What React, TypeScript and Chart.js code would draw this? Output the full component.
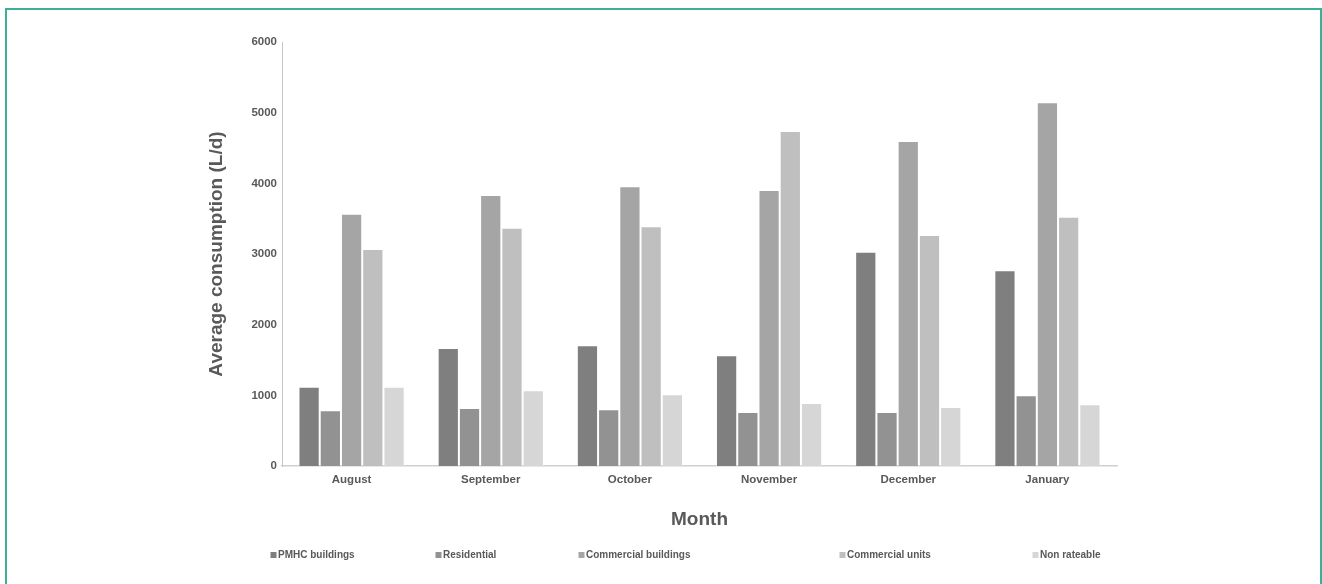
import React, { useEffect, useRef } from "react";
import { Chart, registerables } from "chart.js";

Chart.register(...registerables);

const months = ["August", "September", "October", "November", "December", "January"];
const seriesNames = ["PMHC buildings", "Residential", "Commercial buildings", "Commercial units", "Non rateable"];
const pmhc = [1122, 1670, 1708, 1566, 3033, 2769];
const residential = [788, 821, 802, 764, 764, 1000];
const commercialBuildings = [3570, 3835, 3958, 3905, 4599, 5146];
const commercialUnits = [3070, 3372, 3391, 4740, 3269, 3528];
const nonRateable = [1122, 1071, 1014, 891, 835, 873];
const seriesColors = ["#7f7f7f", "#929292", "#a5a5a5", "#bfbfbf", "#d6d6d6"];
const legendX = [270.5, 435.5, 578.5, 839.5, 1032.5];

const FONT = '"Liberation Sans", Arial, sans-serif';
const TEXT = "#595959";

const legendPlugin = {
  id: "fixedLegend",
  afterDraw(chart: any) {
    const ctx = chart.ctx;
    ctx.save();
    ctx.font = `bold 10px ${FONT}`;
    ctx.textBaseline = "middle";
    ctx.textAlign = "left";
    const y = 555;
    chart.data.datasets.forEach((ds: any, i: number) => {
      const x = legendX[i];
      ctx.fillStyle = ds.backgroundColor;
      ctx.fillRect(x, y - 3, 6, 6);
      ctx.fillStyle = TEXT;
      ctx.fillText(ds.label, x + 7.5, y);
    });
    ctx.restore();
  },
};

export default function App() {
  const ref = useRef<HTMLCanvasElement | null>(null);
  useEffect(() => {
    if (!ref.current) return;
    const values = [pmhc, residential, commercialBuildings, commercialUnits, nonRateable];
    const chart = new Chart(ref.current, {
      type: "bar",
      data: {
        labels: months,
        datasets: seriesNames.map((name, i) => ({
          label: name,
          data: values[i],
          backgroundColor: seriesColors[i],
          borderColor: "rgba(255,255,255,0.25)",
          borderWidth: 1,
          categoryPercentage: 0.763,
          barPercentage: 1,
        })),
      },
      options: {
        animation: false,
        responsive: true,
        maintainAspectRatio: false,
        layout: { padding: { left: 205, right: 205, top: 42, bottom: 53 } },
        plugins: {
          legend: { display: false },
          tooltip: { enabled: false },
        },
        scales: {
          x: {
            grid: { display: false, drawTicks: false },
            border: { display: true, color: "#d0d0d0", width: 1.5 },
            ticks: { color: TEXT, font: { family: FONT, size: 11.5, weight: "bold" }, padding: 7 },
            title: {
              display: true,
              text: "Month",
              color: TEXT,
              font: { family: FONT, size: 19, weight: "bold" },
              padding: 0,
            },
            afterFit: (scale: any) => {
              scale.height = 65;
            },
          },
          y: {
            min: 0,
            max: 6000,
            grid: { display: false, drawTicks: false },
            border: { display: true, color: "#c8c8c8", width: 1 },
            ticks: {
              stepSize: 1000,
              color: TEXT,
              font: { family: FONT, size: 11.5, weight: "bold" },
              padding: 5,
              callback: (v: any) => String(v),
            },
            title: {
              display: true,
              text: "Average consumption (L/d)",
              color: TEXT,
              font: { family: FONT, size: 19, weight: "bold" },
              padding: 0,
            },
            afterFit: (scale: any) => {
              scale.width = 77;
            },
          },
        },
      },
      plugins: [legendPlugin],
    });
    return () => chart.destroy();
  }, []);

  return (
    <div style={{ position: "fixed", left: 0, top: 0, width: 1322, height: 584, background: "#fff", overflow: "hidden" }}>
      <div
        style={{
          position: "absolute",
          left: 5,
          top: 8,
          width: 1317,
          height: 620,
          boxSizing: "border-box",
          border: "2px solid #3bb096",
        }}
      />
      <div style={{ position: "absolute", left: 0, top: 0, width: 1322, height: 584 }}>
        <canvas ref={ref} />
      </div>
    </div>
  );
}
